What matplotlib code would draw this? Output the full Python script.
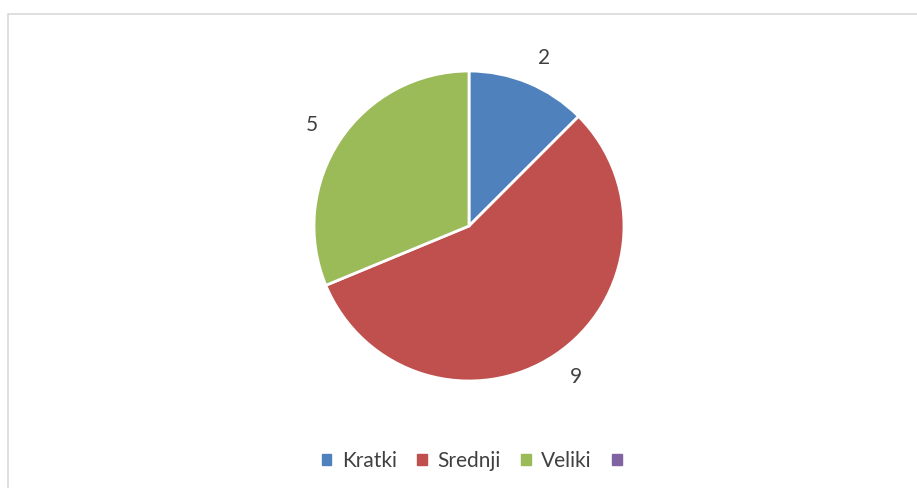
import matplotlib.pyplot as plt
from matplotlib.patches import Rectangle

categories = ['Kratki', 'Srednji', 'Veliki', '']
values = [2, 9, 5, 0]
colors = ['#4F81BD', '#C0504D', '#9BBB59', '#8064A2']

W, H = 917, 488
fig = plt.figure(figsize=(W / 100, H / 100), dpi=100)
plt.rcParams['font.family'] = ['Lato', 'DejaVu Sans']

# okvir grafikona
fig.patches.append(Rectangle((8 / W, -0.1), 1.2, 1.1 - 14 / H, transform=fig.transFigure,
                             fill=False, edgecolor='#D9D9D9', linewidth=1.2))

# pita: centar (469, 226) px, radijus 155 px
cx, cy, r = 469, 226, 155
ax = fig.add_axes([(cx - r) / W, (H - cy - r) / H, 2 * r / W, 2 * r / H])
pie_vals = values[:3]
wedges, texts = ax.pie(pie_vals, colors=colors[:3], startangle=90, counterclock=False,
                       labels=[str(v) for v in pie_vals], labeldistance=1.17,
                       wedgeprops=dict(edgecolor='white', linewidth=2),
                       textprops=dict(fontsize=15, color='#404040'))
ax.set_xlim(-1, 1)
ax.set_ylim(-1, 1)
ax.set_aspect('equal')

handles = [plt.Rectangle((0, 0), 1, 1, color=c) for c in colors]
fig.legend(handles, categories, loc='center', bbox_to_anchor=(477 / W, 1 - 461 / H),
           ncol=4, frameon=False, fontsize=15, handlelength=0.45, handleheight=0.45,
           handletextpad=0.5, columnspacing=1.0, labelcolor='#404040')

fig.savefig('out.png', dpi=100)
